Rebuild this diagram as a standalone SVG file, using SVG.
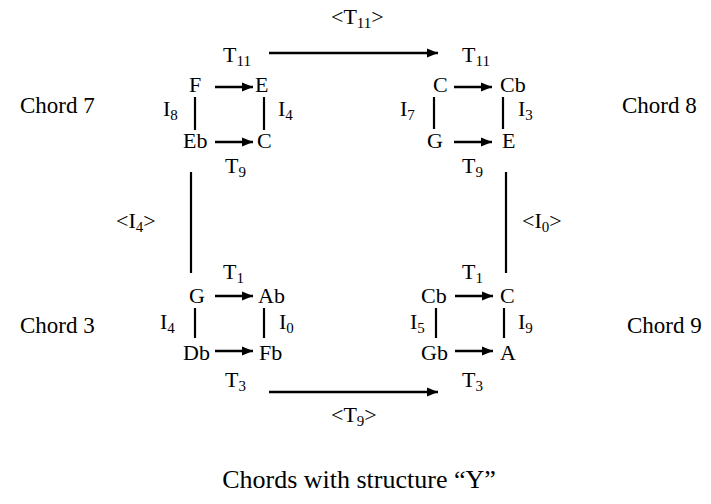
<svg xmlns="http://www.w3.org/2000/svg" width="711" height="504" viewBox="0 0 711 504">
<style>
text{font-family:"Liberation Serif","Times New Roman",serif;fill:#000}
.n{font-size:22px}
.s{font-size:15px}
.c{font-size:23px}
.t{font-size:26px}
.ln{stroke:#000;stroke-width:2.5;fill:none}
.v{stroke:#000;stroke-width:2.2;fill:none}
</style>
<defs>
<marker id="ah" markerUnits="userSpaceOnUse" markerWidth="12" markerHeight="10" refX="11" refY="5" orient="auto">
<path d="M0,0.5 L11,5 L0,9.5 Z" fill="#000"/>
</marker>
</defs>
<rect width="711" height="504" fill="#fff"/>

<g id="connectors">
<line class="ln" x1="215" y1="87" x2="253" y2="87" marker-end="url(#ah)"/>
<line class="ln" x1="215" y1="142" x2="253" y2="142" marker-end="url(#ah)"/>
<line class="v" x1="195" y1="97" x2="195" y2="130"/>
<line class="v" x1="264" y1="97" x2="264" y2="130"/>
<line class="ln" x1="454" y1="87" x2="492" y2="87" marker-end="url(#ah)"/>
<line class="ln" x1="454" y1="142" x2="492" y2="142" marker-end="url(#ah)"/>
<line class="v" x1="434" y1="97" x2="434" y2="129"/>
<line class="v" x1="503" y1="97" x2="503" y2="129"/>
<line class="ln" x1="215" y1="296" x2="253" y2="296" marker-end="url(#ah)"/>
<line class="ln" x1="215" y1="351" x2="253" y2="351" marker-end="url(#ah)"/>
<line class="v" x1="195" y1="308" x2="195" y2="338"/>
<line class="v" x1="264" y1="308" x2="264" y2="338"/>
<line class="ln" x1="455" y1="296" x2="493" y2="296" marker-end="url(#ah)"/>
<line class="ln" x1="455" y1="351" x2="493" y2="351" marker-end="url(#ah)"/>
<line class="v" x1="436" y1="308" x2="436" y2="338"/>
<line class="v" x1="504" y1="308" x2="504" y2="338"/>
<line class="ln" x1="269" y1="53" x2="438" y2="53" marker-end="url(#ah)"/>
<line class="ln" x1="269" y1="392" x2="438" y2="392" marker-end="url(#ah)"/>
<line class="v" x1="191" y1="172" x2="191" y2="273"/>
<line class="v" x1="506" y1="172" x2="506" y2="273"/>

<text class="n" x="223" y="62">T<tspan class="s" dy="4">11</tspan></text>
<text class="n" x="225" y="173">T<tspan class="s" dy="4">9</tspan></text>
<text class="n" x="163" y="116">I<tspan class="s" dy="4">8</tspan></text>
<text class="n" x="278" y="116">I<tspan class="s" dy="4">4</tspan></text>

<text class="n" x="462" y="62">T<tspan class="s" dy="4">11</tspan></text>
<text class="n" x="462" y="173">T<tspan class="s" dy="4">9</tspan></text>
<text class="n" x="400" y="116">I<tspan class="s" dy="4">7</tspan></text>
<text class="n" x="518" y="116">I<tspan class="s" dy="4">3</tspan></text>

<text class="n" x="223" y="279">T<tspan class="s" dy="4">1</tspan></text>
<text class="n" x="225" y="387">T<tspan class="s" dy="4">3</tspan></text>
<text class="n" x="160" y="329">I<tspan class="s" dy="4">4</tspan></text>
<text class="n" x="279" y="329">I<tspan class="s" dy="4">0</tspan></text>

<text class="n" x="462" y="279">T<tspan class="s" dy="4">1</tspan></text>
<text class="n" x="462" y="387">T<tspan class="s" dy="4">3</tspan></text>
<text class="n" x="410" y="329">I<tspan class="s" dy="4">5</tspan></text>
<text class="n" x="518" y="329">I<tspan class="s" dy="4">9</tspan></text>

<text class="n" x="331" y="24">&lt;T<tspan class="s" dy="4">11</tspan><tspan dy="-4">&gt;</tspan></text>
<text class="n" x="331" y="422">&lt;T<tspan class="s" dy="4">9</tspan><tspan dy="-4">&gt;</tspan></text>
<text class="n" x="116" y="228">&lt;I<tspan class="s" dy="4">4</tspan><tspan dy="-4">&gt;</tspan></text>
<text class="n" x="522" y="228">&lt;I<tspan class="s" dy="4">0</tspan><tspan dy="-4">&gt;</tspan></text>
</g>

<g id="chord7">
<text class="c" x="20" y="113">Chord 7</text>
<g id="c7-F"><text class="n" x="189" y="92">F</text></g>
<g id="c7-E"><text class="n" x="255" y="92">E</text></g>
<g id="c7-Eb"><text class="n" x="183" y="148">Eb</text></g>
<g id="c7-C"><text class="n" x="257" y="148">C</text></g>
</g>

<g id="chord8">
<text class="c" x="622" y="113">Chord 8</text>
<g id="c8-C"><text class="n" x="433" y="92">C</text></g>
<g id="c8-Cb"><text class="n" x="500" y="92">Cb</text></g>
<g id="c8-G"><text class="n" x="427" y="148">G</text></g>
<g id="c8-E"><text class="n" x="502" y="148">E</text></g>
</g>

<g id="chord3">
<text class="c" x="20" y="333">Chord 3</text>
<g id="c3-G"><text class="n" x="189" y="303">G</text></g>
<g id="c3-Ab"><text class="n" x="258" y="303">Ab</text></g>
<g id="c3-Db"><text class="n" x="183" y="360">Db</text></g>
<g id="c3-Fb"><text class="n" x="259" y="360">Fb</text></g>
</g>

<g id="chord9">
<text class="c" x="627" y="333">Chord 9</text>
<g id="c9-Cb"><text class="n" x="421" y="303">Cb</text></g>
<g id="c9-C"><text class="n" x="500" y="303">C</text></g>
<g id="c9-Gb"><text class="n" x="421" y="360">Gb</text></g>
<g id="c9-A"><text class="n" x="500" y="360">A</text></g>
</g>

<g id="title">
<text class="t" x="359" y="488" text-anchor="middle">Chords with structure “Y”</text>
</g>
</svg>
